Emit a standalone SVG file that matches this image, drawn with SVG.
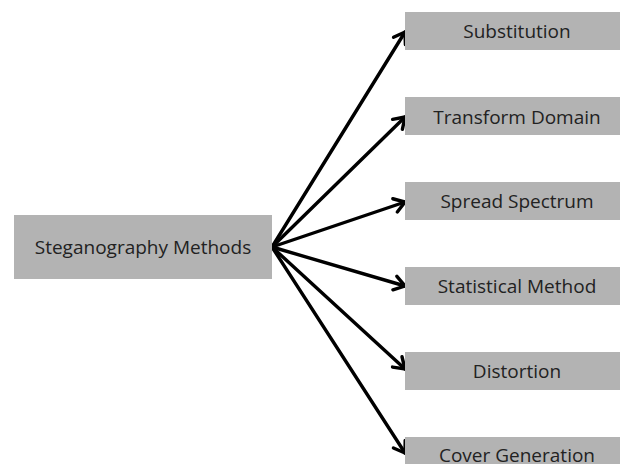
<svg xmlns="http://www.w3.org/2000/svg" width="620" height="464" viewBox="0 0 620 464">
<defs>
<style>
.box{fill:#b3b3b3}
.lbl{font-family:"Open Sans","Noto Sans",sans-serif;font-size:19px;fill:#222;text-anchor:middle}
.con{stroke:#000;stroke-width:3.4;fill:none;stroke-linecap:round}
</style>
<marker id="ah" viewBox="-13 -9 15 18" markerWidth="15" markerHeight="18" markerUnits="userSpaceOnUse" refX="0" refY="0" orient="auto">
<path d="M-10.5,-7 L0,0 L-10.5,7" fill="none" stroke="#000" stroke-width="3.4" stroke-linecap="round" stroke-linejoin="miter"/>
</marker>
</defs>
<rect width="620" height="464" fill="#fff"/>
<g id="connectors">
<line class="con" x1="272" y1="247" x2="405" y2="32" marker-end="url(#ah)"/>
<line class="con" x1="272" y1="247" x2="405" y2="117" marker-end="url(#ah)"/>
<line class="con" x1="272" y1="247" x2="405" y2="202" marker-end="url(#ah)"/>
<line class="con" x1="272" y1="247" x2="405" y2="286" marker-end="url(#ah)"/>
<line class="con" x1="272" y1="247" x2="405" y2="369" marker-end="url(#ah)"/>
<line class="con" x1="272" y1="247" x2="405" y2="453" marker-end="url(#ah)"/>
</g>
<g id="steganography-methods">
<rect class="box" x="14" y="215" width="258" height="64"/>
<text class="lbl" x="143" y="254">Steganography Methods</text>
</g>
<g id="substitution">
<rect class="box" x="405" y="12" width="220" height="38"/>
<text class="lbl" x="517" y="38">Substitution</text>
</g>
<g id="transform-domain">
<rect class="box" x="405" y="97" width="220" height="38"/>
<text class="lbl" x="517" y="123.5">Transform Domain</text>
</g>
<g id="spread-spectrum">
<rect class="box" x="405" y="182" width="220" height="38"/>
<text class="lbl" x="517" y="208">Spread Spectrum</text>
</g>
<g id="statistical-method">
<rect class="box" x="405" y="267" width="220" height="38"/>
<text class="lbl" x="517" y="293">Statistical Method</text>
</g>
<g id="distortion">
<rect class="box" x="405" y="352" width="220" height="38"/>
<text class="lbl" x="517" y="377.5">Distortion</text>
</g>
<g id="cover-generation">
<rect class="box" x="405" y="437" width="220" height="38"/>
<text class="lbl" x="517" y="462">Cover Generation</text>
</g>
</svg>
